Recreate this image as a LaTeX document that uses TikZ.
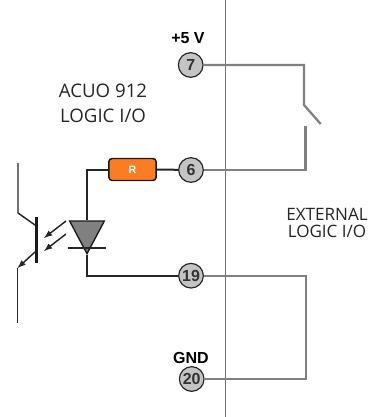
\documentclass[tikz,border=0pt]{standalone}
\usepackage{fontspec}
\setmainfont{Open Sans}
\newfontfamily\pinfont{Liberation Sans}
\usetikzlibrary{positioning, arrows}
\usetikzlibrary{shapes}
\definecolor{pingray}{RGB}{196,196,196}
\definecolor{wiregray}{RGB}{128,128,128}
\definecolor{resorange}{RGB}{250,125,35}
\tikzset{
	pin/.style={draw=black!85,circle,fill=pingray,line width=0.9pt,minimum size=18.5pt,inner sep=0pt,font=\pinfont\fontsize{12}{12}\selectfont\bfseries,text=black!80},
	lab/.style={inner sep=0pt,align=center,font=\fontsize{14}{18.8}\selectfont,text=black!85},
	extlab/.style={inner sep=0pt,align=center,font=\fontsize{12.8}{13}\selectfont,text=black!85},
	pow/.style={inner sep=0pt,font=\pinfont\fontsize{12}{12}\selectfont\bfseries},
	wire/.style={line width=1.5pt,black!85},
	extwire/.style={line width=1.7pt,wiregray},
	thin wire/.style={line width=1.1pt,black!85}
}
\begin{document}
\begin{tikzpicture}[x=0.75pt,y=-0.75pt]
	\useasboundingbox (0,0) rectangle (371,417);
	% divider
	\coordinate (top) at (225.7,0);
	\coordinate (bot) at (225.7,417);
	\draw[line width=0.9pt,black!55] (top) -- (bot);
	% texts
	\node[lab] (acuo) at (103,103.5) {ACUO 912\\LOGIC I/O};
	\node[extlab] (ext) at (327,223) {EXTERNAL\\LOGIC I/O};
	\node[pow] (v5) at (188,38) {+5 V};
	\node[pow] (gnd) at (191,358) {GND};
	% pins
	\node[pin] (p7) at (190.7,65) {7};
	\node[pin] (p6) at (191,170) {6};
	\node[pin] (p19) at (191,275.7) {19};
	\node[pin] (p20) at (191.7,379) {20};
	% resistor
	\node[draw=black!90,fill=resorange,rounded corners=2.5pt,line width=1.1pt,minimum width=35.5pt,minimum height=16.5pt,inner sep=0pt,font=\pinfont\fontsize{8}{8}\selectfont\bfseries,text=white] (res) at (132.5,169.5) {R};
	% diode
	\node[draw=black!90,fill=black!50,isosceles triangle,shape border rotate=-90,isosceles triangle stretches,minimum width=26pt,minimum height=24.5pt,inner sep=0pt,line width=1pt] (led) at (87,231.5) {};
	\coordinate (ledbarl) at (68,248);
	\coordinate (ledbarr) at (106,248);
	\draw[wire] (ledbarl) -- (ledbarr);
	\draw[wire] (res.west) -| (led.north);
	\draw[wire] (res.east) -- (p6);
	\draw[wire] (led.south) |- (p19);
	% external wiring
	\coordinate (swtop) at (304,105);
	\coordinate (swend) at (320.7,124);
	\coordinate (swlow) at (305.5,126);
	\coordinate (loopr) at (305.7,379);
	\draw[extwire] (p7) -| (swtop) -- (swend);
	\draw[extwire] (p6) -| (swlow);
	\draw[extwire] (p19) -| (loopr) -- (p20);
	% transistor
	\coordinate (bartop) at (36.3,217);
	\coordinate (barbot) at (36.3,263);
	\coordinate (c1) at (18,163);
	\coordinate (c2) at (18,213);
	\coordinate (c3) at (35,225);
	\coordinate (e1) at (35,252);
	\coordinate (e2) at (17.5,268);
	\coordinate (e3) at (17.5,323);
	\draw[line width=2.4pt,black!90] (bartop) -- (barbot);
	\draw[thin wire] (c1) -- (c2) -- (c3);
	\draw[thin wire,-latex] (e1) -- (e2);
	\draw[thin wire] (e2) -- (e3);
	% light
	\coordinate (l1a) at (66,221);
	\coordinate (l1b) at (44,238);
	\coordinate (l2a) at (66,234);
	\coordinate (l2b) at (44,251);
	\draw[thin wire,-latex] (l1a) -- (l1b);
	\draw[thin wire,-latex] (l2a) -- (l2b);
\end{tikzpicture}
\end{document}
